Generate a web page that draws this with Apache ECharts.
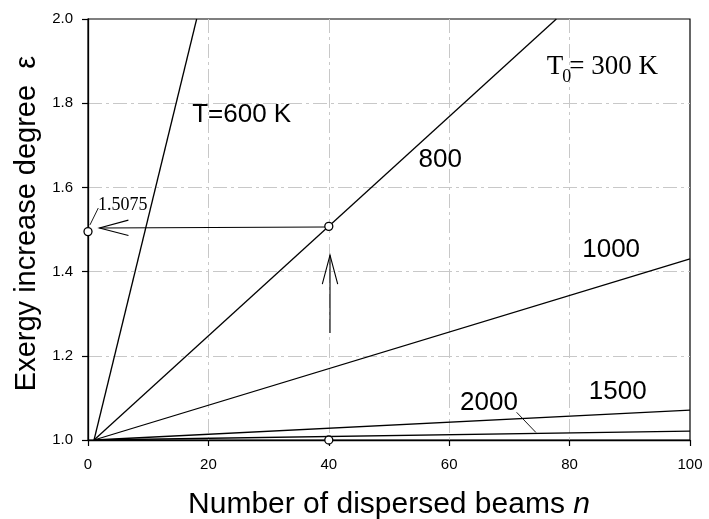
<!DOCTYPE html>
<html><head><meta charset="utf-8">
<script src="https://cdn.jsdelivr.net/npm/echarts@6/dist/echarts.min.js"></script>
<style>html,body{margin:0;padding:0;background:#fff}#c{width:709px;height:519px}</style>
</head><body><div id="c"></div>
<script>
// ---- data ----
const xTickValues = [0, 20, 40, 60, 80, 100];
const yTickValues = [1.0, 1.2, 1.4, 1.6, 1.8, 2.0];
const seriesNames = ['T=600 K', '800', '1000', '1500', '2000'];
const line600  = [[1, 1.0], [18.05, 2.0]];
const line800  = [[1, 1.0], [77.8, 2.0]];
const line1000 = [[1, 1.0], [100, 1.43]];
const line1500 = [[1, 1.0], [100, 1.071]];
const line2000 = [[1, 1.0], [100, 1.021]];
const circlePoints = [[40, 1.5075], [0, 1.495], [40, 1.0]];
// arrows: [fromX, fromY, tipX, tipY]
const arrowSegs = [[39.4, 1.5059, 1.9, 1.5036], [40.2, 1.254, 40.2, 1.439]];
// leader lines: [x1, y1, x2, y2]
const leaderSegs = [[0.33, 1.511, 1.71, 1.551], [71.2, 1.0658, 74.4, 1.018]];
// text labels: [x, y, labelIndex]
const labelTexts = ['T=600 K', '800', '1000', '1500', '2000', '1.5075'];
const labelPos = [[17.3, 1.772, 0], [58.5, 1.665, 1], [86.9, 1.452, 2], [88.0, 1.114, 3], [66.6, 1.088, 4], [1.66, 1.557, 5]];
const t0Pos = [[76.2, 1.886]];

const sans = 'Liberation Sans';
const serif = 'Liberation Serif';

function measure(text, font) {
  const c = document.createElement('canvas').getContext('2d');
  c.font = font; return c.measureText(text).width;
}

const chart = echarts.init(document.getElementById('c'), null, {renderer: 'canvas'});
const lineStyle = {color: '#000', width: 1.3};
function mkLine(name, data) {
  return {type: 'line', name, data, symbol: 'none', lineStyle, itemStyle: {color: '#000'}, clip: true, silent: true, z: 3};
}

chart.setOption({
  animation: false,
  backgroundColor: '#fff',
  grid: {left: 88, right: 19, top: 19, bottom: 79, containLabel: false, outerBoundsMode: 'none',
         show: true, borderColor: '#000', borderWidth: 1.2, backgroundColor: 'transparent'},
  xAxis: {
    type: 'value', min: xTickValues[0], max: xTickValues[xTickValues.length - 1], interval: 20,
    name: 'Number of dispersed beams {i|n}', nameLocation: 'middle', nameGap: 50,
    nameTextStyle: {fontFamily: sans, fontSize: 30, color: '#000', rich: {i: {fontFamily: sans, fontSize: 30, fontStyle: 'italic', color: '#000'}}},
    axisLine: {onZero: false, lineStyle: {color: '#000', width: 1.3}},
    axisTick: {length: 6, lineStyle: {color: '#000', width: 1.2}},
    axisLabel: {margin: 17, fontFamily: sans, fontSize: 15, color: '#000'},
    splitLine: {show: true, showMinLine: false, showMaxLine: false, lineStyle: {color: '#c8c8c8', width: 1, type: [14, 4, 3, 4]}}
  },
  yAxis: {
    type: 'value', min: yTickValues[0], max: yTickValues[yTickValues.length - 1], interval: 0.2,
    name: 'Exergy increase degree  ε', nameLocation: 'middle', nameGap: 44,
    nameTextStyle: {fontFamily: sans, fontSize: 29, color: '#000', padding: [0, 0, 0, 12]},
    axisLine: {onZero: false, lineStyle: {color: '#000', width: 1.3}},
    axisTick: {length: 6, lineStyle: {color: '#000', width: 1.2}},
    axisLabel: {margin: 15, fontFamily: sans, fontSize: 15, color: '#000', formatter: v => v.toFixed(1)},
    splitLine: {show: true, showMinLine: false, showMaxLine: false, lineStyle: {color: '#c8c8c8', width: 1, type: [14, 4, 3, 4]}}
  },
  series: [
    mkLine(seriesNames[0], line600),
    mkLine(seriesNames[1], line800),
    mkLine(seriesNames[2], line1000),
    mkLine(seriesNames[3], line1500),
    mkLine(seriesNames[4], line2000),
    {type: 'scatter', data: circlePoints, symbol: 'circle', symbolSize: 8, clip: false, z: 5,
     itemStyle: {color: '#ffffff', borderColor: '#000000', borderWidth: 1.3, opacity: 1}},
    {type: 'custom', data: arrowSegs, clip: false, z: 4, dimensions: ['x1', 'y1', 'x2', 'y2'],
     encode: {x: [0, 2], y: [1, 3]},
     renderItem(params, api) {
       const p1 = api.coord([api.value(0), api.value(1)]);
       const p2 = api.coord([api.value(2), api.value(3)]);
       const ang = Math.atan2(p1[1] - p2[1], p1[0] - p2[0]);
       const L = 30, H = 0.26;
       const b1 = [p2[0] + L * Math.cos(ang + H), p2[1] + L * Math.sin(ang + H)];
       const b2 = [p2[0] + L * Math.cos(ang - H), p2[1] + L * Math.sin(ang - H)];
       const st = {stroke: '#000', lineWidth: 1.1, fill: null};
       return {type: 'group', children: [
         {type: 'line', shape: {x1: p1[0], y1: p1[1], x2: p2[0], y2: p2[1]}, style: st},
         {type: 'polyline', shape: {points: [b1, p2, b2]}, style: st}
       ]};
     }},
    {type: 'custom', data: leaderSegs, clip: false, z: 4, dimensions: ['x1', 'y1', 'x2', 'y2'],
     encode: {x: [0, 2], y: [1, 3]},
     renderItem(params, api) {
       const p1 = api.coord([api.value(0), api.value(1)]);
       const p2 = api.coord([api.value(2), api.value(3)]);
       return {type: 'line', shape: {x1: p1[0], y1: p1[1], x2: p2[0], y2: p2[1]}, style: {stroke: '#000', lineWidth: 0.9}};
     }},
    {type: 'custom', data: labelPos, clip: false, z: 6, dimensions: ['x', 'y', 'i'],
     encode: {x: 0, y: 1},
     renderItem(params, api) {
       const p = api.coord([api.value(0), api.value(1)]);
       const idx = api.value(2);
       const isSerif = idx === 5;
       return {type: 'text', x: p[0], y: p[1], style: {
         text: labelTexts[idx], fill: '#000',
         font: isSerif ? ('18px "' + serif + '"') : ('26px "' + sans + '"'),
         align: (idx === 0 || idx === 5) ? 'left' : 'center', verticalAlign: 'middle'}};
     }},
    {type: 'custom', data: t0Pos, clip: false, z: 6, dimensions: ['x', 'y'],
     encode: {x: 0, y: 1},
     renderItem(params, api) {
       const p = api.coord([api.value(0), api.value(1)]);
       const fBig = '27px "' + serif + '"', fSmall = '18px "' + serif + '"';
       const wT = measure('T', fBig), w0 = measure('0', fSmall);
       return {type: 'group', children: [
         {type: 'text', x: p[0], y: p[1], style: {text: 'T', font: fBig, fill: '#000', align: 'left', verticalAlign: 'middle'}},
         {type: 'text', x: p[0] + wT - 1, y: p[1] + 10, style: {text: '0', font: fSmall, fill: '#000', align: 'left', verticalAlign: 'middle'}},
         {type: 'text', x: p[0] + wT + w0 - 3, y: p[1], style: {text: '= 300 K', font: fBig, fill: '#000', align: 'left', verticalAlign: 'middle'}}
       ]};
     }}
  ]
});
</script>
</body></html>
